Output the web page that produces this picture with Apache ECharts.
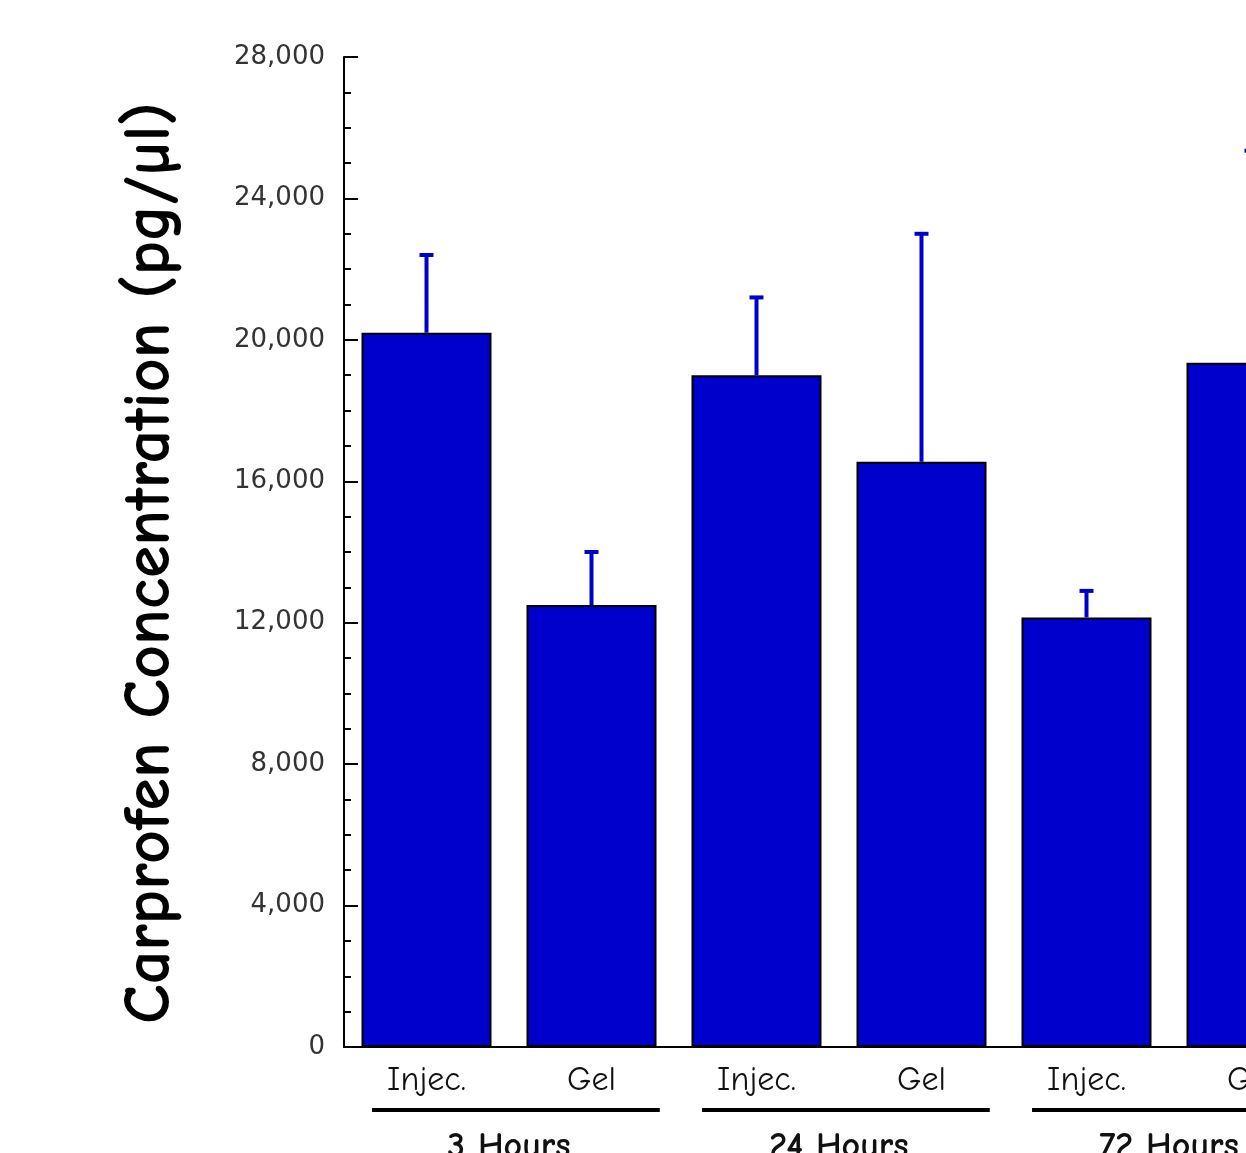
<!DOCTYPE html>
<html>
<head>
<meta charset="utf-8">
<script src="https://cdn.jsdelivr.net/npm/echarts@6/dist/echarts.min.js"></script>
<style>
html,body{margin:0;padding:0;background:#fff;}
#c{width:1246px;height:1153px;}
</style>
</head>
<body>
<div id="c"></div>
<script>
const categories = ['Injec.', 'Gel', 'Injec.', 'Gel', 'Injec.', 'Gel'];
const groups = ['3 Hours', '24 Hours', '72 Hours'];
const means = [20200, 12500, 19000, 16550, 12150, 19350];
const upperErr = [2200, 1500, 2200, 6450, 750, 6000];
const yTicks = [0, 4000, 8000, 12000, 16000, 20000, 24000, 28000];
const yTitle = 'Carprofen Concentration (pg/µl)';

const BLUE = '#0000cc';
const FONT = '"Comic Sans MS", "Comic Neue", "DejaVu Sans", sans-serif';

const chart = echarts.init(document.getElementById('c'), null, {renderer: 'canvas'});

const errData = means.map((m, i) => [i, m, m + upperErr[i]]);

chart.setOption({
  animation: false,
  backgroundColor: '#fff',
  grid: {left: 344, top: 57, width: 990, height: 990, containLabel: false, outerBoundsMode: 'none'},
  xAxis: [{
    type: 'category',
    data: categories,
    boundaryGap: true,
    axisLine: {show: true, lineStyle: {color: '#000', width: 2}},
    axisTick: {show: false},
    axisLabel: {margin: 16, fontSize: 34, color: '#111', fontFamily: FONT}
  }, {
    type: 'category',
    data: groups,
    position: 'bottom',
    boundaryGap: true,
    axisLine: {show: false},
    axisTick: {show: false},
    axisLabel: {margin: 82, fontSize: 36, fontWeight: 'bold', color: '#111', fontFamily: FONT}
  }],
  yAxis: {
    type: 'value',
    min: yTicks[0],
    max: yTicks[yTicks.length - 1],
    interval: 4000,
    axisLine: {show: true, lineStyle: {color: '#000', width: 2}},
    axisTick: {show: true, inside: true, length: 14, lineStyle: {color: '#000', width: 2}},
    minorTick: {show: true, splitNumber: 4, length: 7, lineStyle: {color: '#000', width: 2}},
    splitLine: {show: false},
    axisLabel: {
      margin: 19, fontSize: 26, color: '#333', fontFamily: '"DejaVu Sans", sans-serif',
      formatter: v => v.toLocaleString('en-US')
    }
  },
  series: [{
    type: 'bar',
    data: means,
    barWidth: 130,
    itemStyle: {color: BLUE, borderColor: '#000', borderWidth: 2},
    z: 2
  }, {
    type: 'custom',
    data: errData,
    z: 3,
    clip: false,
    renderItem: (params, api) => {
      const base = api.coord([api.value(0), api.value(1)]);
      const top = api.coord([api.value(0), api.value(2)]);
      const style = {stroke: BLUE, lineWidth: 4};
      return {
        type: 'group',
        children: [
          {type: 'line', shape: {x1: base[0], y1: base[1], x2: top[0], y2: top[1]}, style},
          {type: 'line', shape: {x1: top[0] - 7, y1: top[1], x2: top[0] + 7, y2: top[1]}, style}
        ]
      };
    }
  }, {
    type: 'custom',
    xAxisIndex: 1,
    data: groups.map((g, i) => [i, 0]),
    clip: false,
    z: 3,
    renderItem: (params, api) => {
      const p = api.coord([api.value(0), 0]);
      const bw = api.size([1, 0])[0];
      return {
        type: 'line',
        shape: {x1: p[0] - 0.415 * bw, y1: p[1] + 63, x2: p[0] + 0.457 * bw, y2: p[1] + 63},
        style: {stroke: '#000', lineWidth: 4}
      };
    }
  }],
  graphic: [{
    type: 'text',
    x: 150, y: 563,
    rotation: Math.PI / 2,
    style: {
      text: yTitle,
      font: 'bold 66px ' + FONT,
      fill: '#000',
      textAlign: 'center',
      textVerticalAlign: 'middle'
    }
  }]
});
</script>
</body>
</html>
